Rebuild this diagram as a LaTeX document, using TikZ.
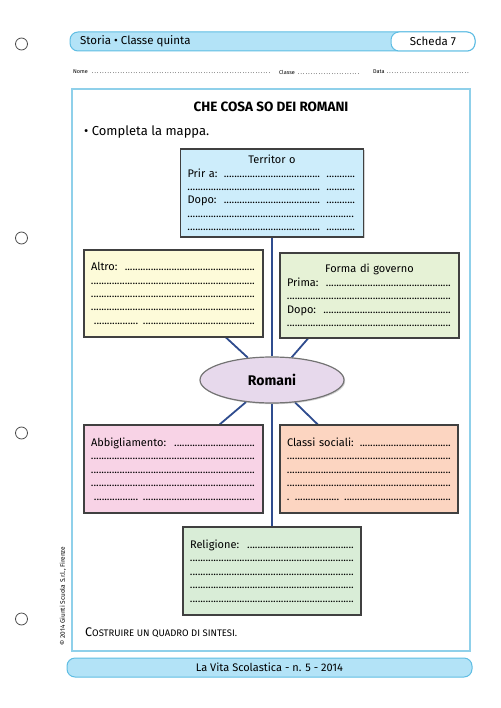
\documentclass[tikz,border=0pt]{standalone}
\usepackage{fontspec}
\setmainfont{Fira Sans}
\usetikzlibrary{positioning,shapes.geometric,shadows,backgrounds}

\definecolor{barblue}{HTML}{B3E3F7}
\definecolor{barline}{HTML}{5FBDE3}
\definecolor{framecol}{HTML}{8FD0EA}
\definecolor{linkblue}{HTML}{2F4C8E}
\definecolor{terrfill}{HTML}{CDEDFB}
\definecolor{altrofill}{HTML}{FDFBD9}
\definecolor{formafill}{HTML}{E6F2D6}
\definecolor{romfill}{HTML}{E7D9EC}
\definecolor{abbfill}{HTML}{F8D3E6}
\definecolor{classfill}{HTML}{FCD5C1}
\definecolor{relfill}{HTML}{D9EDD7}

\newcommand{\dotline}{\leaders\hbox to 2.6pt{\hss.\hss}\hfill\kern0pt}
\newcommand{\dotrow}{\mbox{}\dotline}
\newcommand{\dotseg}[1]{\leavevmode\hbox to #1{\dotline}}
\newcommand{\fillto}[2]{\hbox to #1{#2\dotline}}
\newcommand{\boxfont}{\fontsize{11}{13.4}\selectfont}

\tikzset{
  mapbox/.style={draw=black!75, line width=1.2pt, minimum height=87pt,
    text width=165pt, inner xsep=7pt, inner ysep=2pt, align=left, font=\boxfont,
    drop shadow={opacity=0.35, shadow xshift=1.2pt, shadow yshift=-1.2pt}},
  link/.style={draw=linkblue, line width=1.8pt},
  holes/.style={draw=black!70, line width=0.8pt},
  bar/.style={draw=barline, fill=barblue, line width=1pt, rounded corners=8pt,
    minimum height=19pt, inner sep=0pt},
}

\begin{document}
\begin{tikzpicture}[x=1pt,y=-1pt]
\useasboundingbox (0,0) rectangle (500,708);

% punch holes
\foreach \yy in {44,238,433,619}
  \draw[holes] (21.5,\yy) circle (6pt);

% header
\node[bar, minimum width=405pt] (header) at (272.5,41.5) {};
\node[bar, fill=white, minimum width=84pt] (scheda) at (433,41.5) {\fontsize{11.5}{12}\selectfont Scheda 7};
\node[anchor=west, inner sep=0pt, font=\fontsize{11.5}{12}\selectfont] (materia) at (80,41.5) {Storia • Classe quinta};
\node[anchor=west, inner sep=0pt, font=\fontsize{5.5}{6}\selectfont] (nome) at (73,72) {\fillto{200pt}{Nome }};
\node[anchor=west, inner sep=0pt, font=\fontsize{5.5}{6}\selectfont] (classe) at (279,72) {\fillto{83pt}{Classe }};
\node[anchor=west, inner sep=0pt, font=\fontsize{5.5}{6}\selectfont] (data) at (373,72) {\fillto{97pt}{Data }};

% frame
\draw[framecol, line width=1.4pt] (72,89) rectangle (470,651);
\node[font=\bfseries\fontsize{13.5}{15}\selectfont] (titolo) at (271,107) {CHE COSA SO DEI ROMANI};
\node[anchor=west, inner sep=0pt, font=\fontsize{13}{15}\selectfont] (consegna) at (84,132) {• Completa la mappa.};

% map
\node[mapbox, fill=terrfill, text width=169pt, minimum height=88pt] (territorio) at (272,193) {%
  \makebox[\linewidth]{Territor o}\\
  Prir a: \dotline\hspace{5pt}\dotseg{30pt}\\
  \dotrow\hspace{5pt}\dotseg{30pt}\\
  Dopo: \dotline\hspace{5pt}\dotseg{30pt}\\
  \dotrow\\
  \dotrow\hspace{5pt}\dotseg{30pt}};
\node[mapbox, fill=altrofill] (altro) at (173.5,293.5) {%
  Altro: \dotline\\ \dotrow\\ \dotrow\\ \dotrow\\ \hspace{3pt}\dotseg{45pt}\hspace{4pt}\dotline};
\node[mapbox, fill=formafill, minimum height=85pt] (forma) at (369.5,295.5) {%
  \makebox[\linewidth]{Forma di governo}\\
  Prima: \dotline\\ \dotrow\\ Dopo: \dotline\\ \dotrow};
\node[ellipse, draw=black!55, line width=1.2pt, fill=romfill, minimum width=144pt, minimum height=46pt,
  font=\bfseries\fontsize{14}{15}\selectfont,
  drop shadow={opacity=0.35, shadow xshift=1.2pt, shadow yshift=-1.2pt}] (romani) at (272,380) {Romani};
\node[mapbox, fill=abbfill, minimum height=88pt] (abbigliamento) at (173.5,469) {%
  Abbigliamento: \dotline\\ \dotrow\\ \dotrow\\ \dotrow\\ \hspace{3pt}\dotseg{45pt}\hspace{4pt}\dotline};
\node[mapbox, fill=classfill, text width=164pt, minimum height=88pt] (classi) at (369,469) {%
  Classi sociali: \dotline\\ \dotrow\\ \dotrow\\ \dotrow\\ \dotseg{5pt}\hspace{3pt}\dotseg{45pt}\hspace{4pt}\dotline};
\node[mapbox, fill=relfill, text width=164pt, minimum height=88pt] (religione) at (272,571) {%
  Religione: \dotline\\ \dotrow\\ \dotrow\\ \dotrow\\ \dotrow};

\begin{scope}[on background layer]
\draw[link] (territorio) -- (romani);
\draw[link] (romani) -- (religione);
\draw[link] (romani) -- (altro.-40);
\draw[link] (romani) -- (forma.215);
\draw[link] (romani) -- (abbigliamento.44);
\draw[link] (romani) -- (classi.139);
\end{scope}

\node[anchor=west, inner sep=0pt] (sintesi) at (85,633) {{\fontsize{12.5}{13}\selectfont C}{\fontsize{9.5}{13}\selectfont OSTRUIRE UN QUADRO DI SINTESI.}};
\node[rotate=90, inner sep=0pt, font=\fontsize{6.5}{7}\selectfont] (copyright) at (63,596) {© 2014 Giunti Scuola S.r.l., Firenze};

% footer
\node[bar, minimum width=405pt, font=\fontsize{11}{12}\selectfont] (footer) at (269.5,667.5) {La Vita Scolastica - n. 5 - 2014};
\end{tikzpicture}
\end{document}
